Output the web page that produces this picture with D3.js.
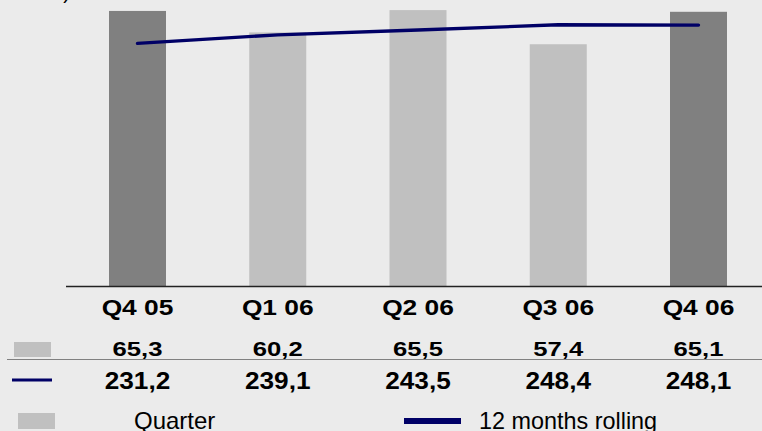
<!DOCTYPE html>
<html>
<head>
<meta charset="utf-8">
<script src="https://cdn.jsdelivr.net/npm/d3@7"></script>
<style>
  html, body { margin: 0; padding: 0; background: #ebebeb; }
  svg { display: block; font-family: "Liberation Sans", Arial, sans-serif; }
</style>
</head>
<body>
<svg id="chart" width="762" height="431"></svg>
<script>
// ---- data ----
const categories = ["Q4 05", "Q1 06", "Q2 06", "Q3 06", "Q4 06"];
const quarterValues = [65.3, 60.2, 65.5, 57.4, 65.1];
const rollingValues = [231.2, 239.1, 243.5, 248.4, 248.1];
const quarterLabels = ["65,3", "60,2", "65,5", "57,4", "65,1"];
const rollingLabels = ["231,2", "239,1", "243,5", "248,4", "248,1"];
const highlighted = ["Q4 05", "Q4 06"];
const legendLabels = ["Quarter", "12 months rolling"];

// ---- layout / style ----
const W = 762, H = 431;
const svg = d3.select("#chart");
svg.append("rect").attr("width", W).attr("height", H).attr("fill", "#ebebeb");

const x = d3.scaleBand()
  .domain(categories)
  .range([67.375, 768.625])
  .paddingInner(0.5936)
  .paddingOuter(0.2968);

const y = d3.scaleLinear().domain([0, 67.9]).range([286, 0]);
const y2 = d3.scaleLinear().domain([0, 270]).range([293.5, 1.4]);

const lightGray = "#c0c0c0", darkGray = "#808080", navy = "#000066";

// clipped title fragment at the top
svg.append("text")
  .attr("x", 70).attr("y", -1.5)
  .attr("text-anchor", "end")
  .attr("font-size", 20)
  .attr("fill", "#000")
  .text(")");

// bars
svg.append("g").selectAll("rect")
  .data(categories)
  .join("rect")
  .attr("x", d => x(d))
  .attr("width", x.bandwidth())
  .attr("y", (d, i) => y(quarterValues[i]))
  .attr("height", (d, i) => y(0) - y(quarterValues[i]))
  .attr("fill", d => highlighted.includes(d) ? darkGray : lightGray);

// axis baseline
svg.append("line")
  .attr("x1", 66).attr("x2", W)
  .attr("y1", y(0) + 0.5).attr("y2", y(0) + 0.5)
  .attr("stroke", "#222").attr("stroke-width", 1.5);

// rolling line
const line = d3.line()
  .x((d, i) => x(categories[i]) + x.bandwidth() / 2)
  .y(d => y2(d));
svg.append("path")
  .datum(rollingValues)
  .attr("d", line)
  .attr("fill", "none")
  .attr("stroke", navy)
  .attr("stroke-width", 3.4)
  .attr("stroke-linecap", "round")
  .attr("stroke-linejoin", "round");

// table rows
function row(labels, baseline, size, sx) {
  svg.append("g").selectAll("text")
    .data(labels)
    .join("text")
    .attr("transform", (d, i) =>
      `translate(${x(categories[i]) + x.bandwidth() / 2},${baseline}) scale(${sx},1)`)
    .attr("text-anchor", "middle")
    .attr("font-size", size)
    .attr("font-weight", "bold")
    .attr("fill", "#000")
    .text(d => d);
}
row(categories, 314.8, 21.6, 1.22);
row(quarterLabels, 356, 20.2, 1.27);
row(rollingLabels, 388.6, 23.4, 1.12);

// row swatches
svg.append("rect")
  .attr("x", 14).attr("y", 342).attr("width", 37).attr("height", 15)
  .attr("fill", lightGray);
svg.append("line")
  .attr("x1", 12).attr("x2", 52).attr("y1", 380).attr("y2", 380)
  .attr("stroke", navy).attr("stroke-width", 3);

// row separator
svg.append("line")
  .attr("x1", 7).attr("x2", W).attr("y1", 359.5).attr("y2", 359.5)
  .attr("stroke", "#808080").attr("stroke-width", 1);

// legend
svg.append("rect")
  .attr("x", 18).attr("y", 413).attr("width", 37).attr("height", 16)
  .attr("fill", lightGray);
svg.append("text")
  .attr("x", 134).attr("y", 429.3)
  .attr("font-size", 24)
  .attr("fill", "#000")
  .text(legendLabels[0]);
svg.append("line")
  .attr("x1", 404).attr("x2", 461).attr("y1", 421).attr("y2", 421)
  .attr("stroke", navy).attr("stroke-width", 6);
svg.append("text")
  .attr("x", 479).attr("y", 429.3)
  .attr("font-size", 23.4)
  .attr("fill", "#000")
  .text(legendLabels[1]);
</script>
</body>
</html>
